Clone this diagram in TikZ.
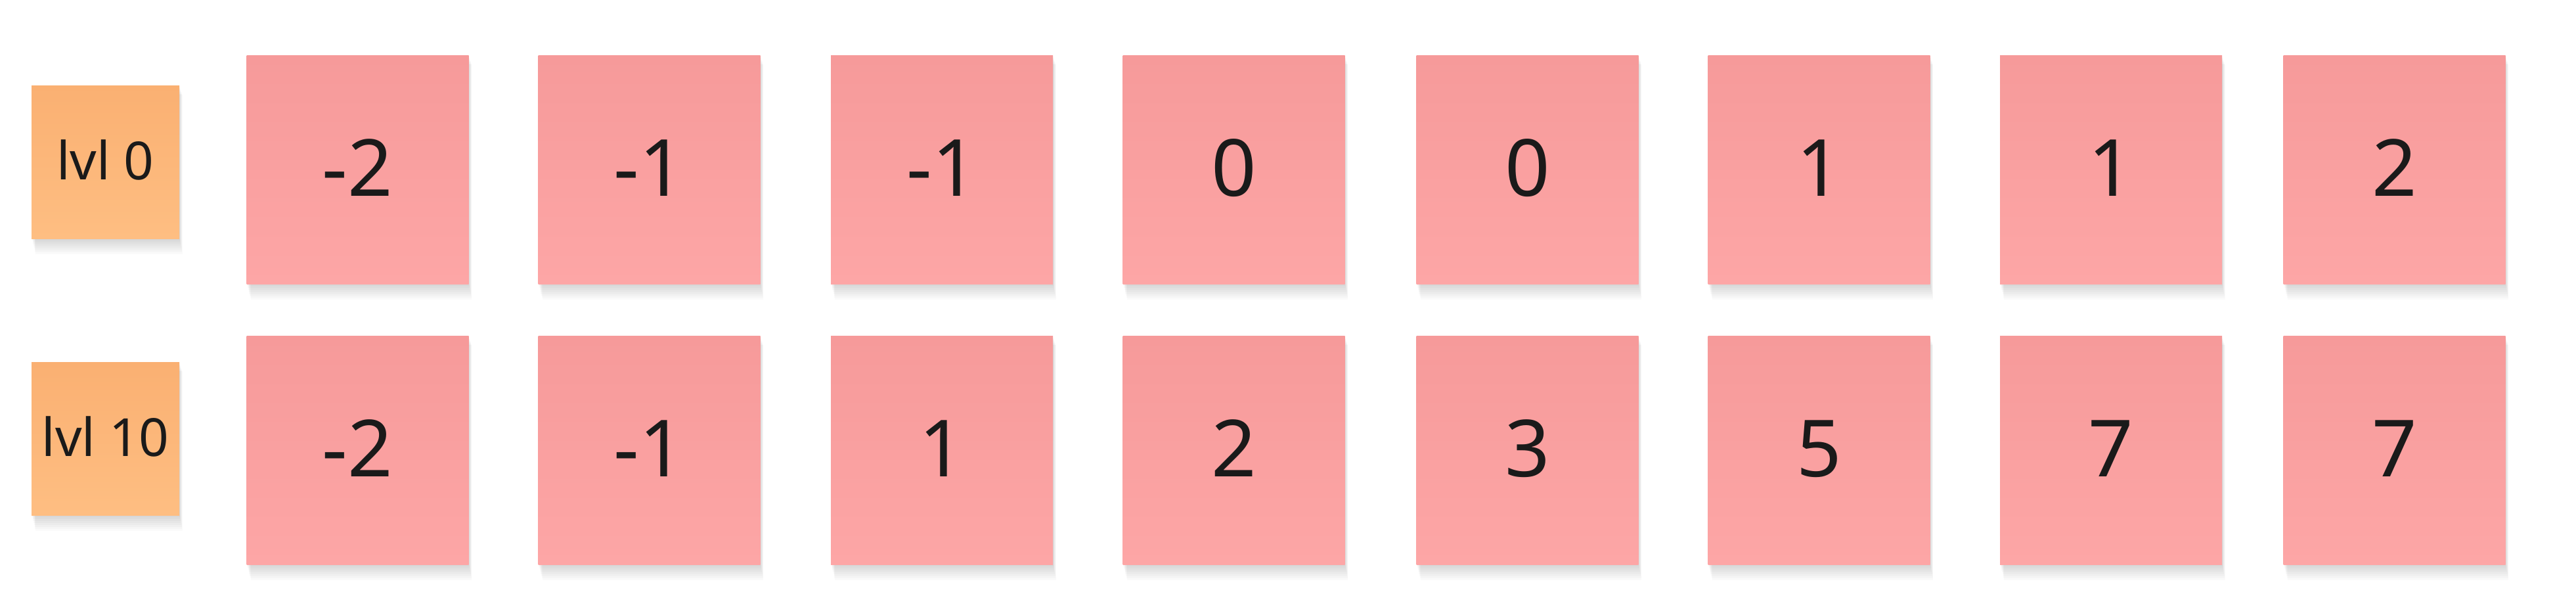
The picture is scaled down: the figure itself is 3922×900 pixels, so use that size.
\documentclass[tikz,border=0pt]{standalone}
\usepackage{fontspec}
\setmainfont{Noto Sans}
\definecolor{pinktop}{HTML}{F69A9A}
\definecolor{pinkbot}{HTML}{FDA6A6}
\definecolor{orgtop}{HTML}{FAB072}
\definecolor{orgbot}{HTML}{FEBE82}
\definecolor{txt}{HTML}{1A1A1A}
\tikzset{
  sticky/.style={inner sep=0pt, outer sep=0pt, text=txt},
  valbox/.style={sticky, minimum width=338pt, minimum height=348pt,
    top color=pinktop, bottom color=pinkbot,
    text height=86pt, text depth=6pt,
    font=\fontsize{120}{144}\selectfont},
  lvlbox/.style={sticky, minimum width=225pt, minimum height=233pt,
    top color=orgtop, bottom color=orgbot,
    text height=61pt, text depth=8pt,
    font=\fontsize{80}{96}\selectfont},
  softshadow/.style={black, opacity=0.02},
}
% shadow: #1 center x, #2 center y, #3 half width, #4 half height
\newcommand{\mysoftshadow}[4]{%
  \foreach \k in {3,6,...,24}{%
    \fill[softshadow] (#1-#3+\k*0.25,#2-#4+\k*0.6) rectangle (#1+#3+\k*0.2,#2+#4+\k);
  }%
}
\begin{document}
\begin{tikzpicture}[x=1pt,y=-1pt]
\fill[white] (0,0) rectangle (3922,900);
\useasboundingbox (0,0) rectangle (3922,900);
\mysoftshadow{160.5}{246.5}{112.5}{116.5}
\mysoftshadow{160.5}{667.5}{112.5}{116.5}
\node[lvlbox] (l0) at (160.5,246.5) {lvl 0};
\node[lvlbox] (l10) at (160.5,667.5) {lvl 10};
\foreach \x/\a/\b [count=\i] in {544.5/-2/-2, 988.5/-1/-1, 1434/-1/1, 1878.5/0/2, 2325.5/0/3, 2769.5/1/5, 3214/1/7, 3645.5/2/7}{
  \mysoftshadow{\x}{258}{169}{174}
  \mysoftshadow{\x}{685}{169}{174}
  \node[valbox] (a\i) at (\x,258) {\a};
  \node[valbox] (b\i) at (\x,685) {\b};
}
\end{tikzpicture}
\end{document}
